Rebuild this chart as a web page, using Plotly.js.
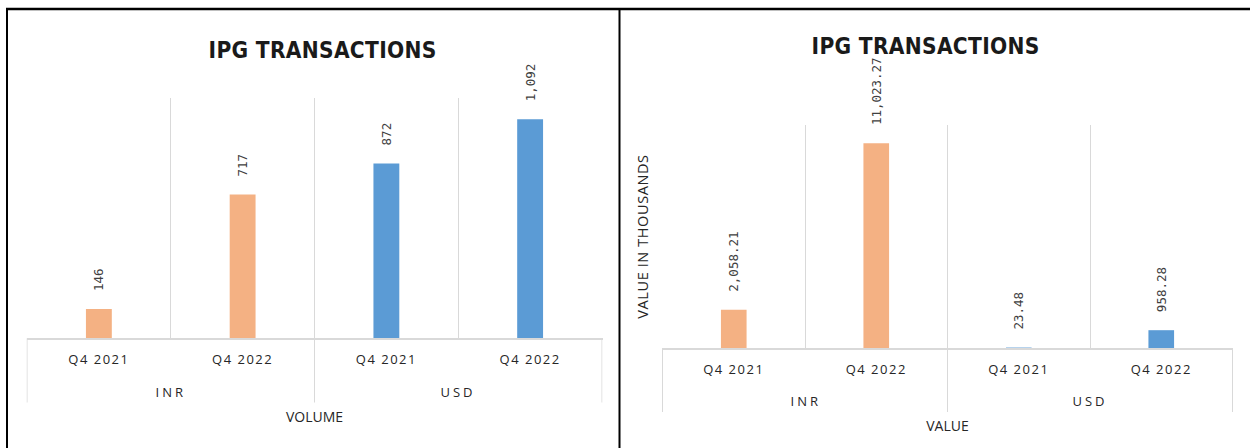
<!DOCTYPE html>
<html>
<head>
<meta charset="utf-8">
<script src="https://cdn.plot.ly/plotly-3.0.1.min.js"></script>
<style>
  html, body { margin: 0; padding: 0; background: #fff; }
  #chart { width: 1250px; height: 448px; }
  .xaxislayer-above text { letter-spacing: 1.5px; }
  .annotation[data-index="2"] text, .annotation[data-index="3"] text,
  .annotation[data-index="4"] text, .annotation[data-index="5"] text { letter-spacing: 3px; }
  .annotation[data-index="0"] text, .annotation[data-index="1"] text { letter-spacing: 0.3px; }
  .y2title { letter-spacing: 0.6px; }
</style>
</head>
<body>
<div id="chart"></div>
<script>
// ---- data ----
const currencies = ["INR", "INR", "USD", "USD"];
const quarters = ["Q4 2021", "Q4 2022", "Q4 2021", "Q4 2022"];
const volumeValues = [146, 717, 872, 1092];
const valueValues = [2058.21, 11023.27, 23.48, 958.28];
const chartTitle = "IPG TRANSACTIONS";
const volumeAxisTitle = "VOLUME";
const valueAxisTitle = "VALUE";
const valueYAxisTitle = "VALUE IN THOUSANDS";

// ---- styles ----
const currencyColor = { INR: "#F4B183", USD: "#5B9BD5" };
const W = 1250, H = 448;
const px = v => v / W;
const py = v => 1 - v / H;
const labelFont = { family: "DejaVu Sans Mono", size: 12.5, color: "#404040" };
const tickFont = { family: "Open Sans", size: 13, color: "#262626" };
const axisTitleFont = { family: "Open Sans", size: 14, color: "#262626" };
const titleFont = { family: "DejaVu Sans Condensed, sans-serif", size: 22.5, weight: 700, color: "#1a1a1a" };
const gridCol = "#d9d9d9";

// unique category keys (currency + quarter), displayed as quarter
const keys = currencies.map((c, i) => c + "|" + quarters[i]);
const groups = [...new Set(currencies)];
const groupCenter = g => {
  const idx = currencies.map((c, i) => c === g ? i : null).filter(v => v !== null);
  return idx.reduce((a, b) => a + b, 0) / idx.length;
};
const boundaries = [-0.5];
currencies.forEach((c, i) => { if (i > 0 && c !== currencies[i - 1]) boundaries.push(i - 0.5); });
boundaries.push(currencies.length - 0.5);

function barTrace(vals, fmt, xa, ya) {
  return {
    type: "bar",
    x: keys,
    y: vals,
    xaxis: xa, yaxis: ya,
    marker: { color: currencies.map(c => currencyColor[c]) },
    texttemplate: "\u00a0\u00a0%{y:" + fmt + "}",
    textposition: "outside",
    textangle: -90,
    constraintext: "none",
    textfont: labelFont,
    cliponaxis: false,
    hoverinfo: "none",
    showlegend: false
  };
}

const traces = [
  barTrace(volumeValues, ",.0f", "x", "y"),
  barTrace(valueValues, ",.2f", "x2", "y2")
];

function xAxis(domain, title, anchor) {
  return {
    domain: domain,
    anchor: anchor,
    type: "category",
    categoryorder: "array",
    categoryarray: keys,
    tickmode: "array",
    tickvals: keys,
    ticktext: quarters,
    tickson: "boundaries",
    ticks: "",
    ticklabelstandoff: 8,
    showgrid: true,
    gridcolor: gridCol,
    gridwidth: 1,
    showline: true,
    linecolor: gridCol,
    linewidth: 2,
    tickfont: tickFont,
    fixedrange: true,
    title: { text: title, font: axisTitleFont, standoff: 45 }
  };
}
function yAxis(domain, range, anchor, title) {
  const a = {
    domain: domain,
    anchor: anchor,
    range: range,
    showgrid: false,
    zeroline: false,
    showline: false,
    showticklabels: false,
    ticks: "",
    fixedrange: true
  };
  if (title) a.title = { text: title, font: { family: "Open Sans", size: 14.5, color: "#262626" }, standoff: 8 };
  return a;
}

const yDom1 = [py(338.3), py(97.7)];
const yDom2 = [py(348), py(125)];

const annotations = [
  { xref: "paper", yref: "paper", x: px(322), y: py(50), text: chartTitle, showarrow: false,
    xanchor: "center", yanchor: "middle", font: titleFont },
  { xref: "paper", yref: "paper", x: px(925), y: py(46), text: chartTitle, showarrow: false,
    xanchor: "center", yanchor: "middle", font: titleFont }
];
groups.forEach(g => annotations.push({ xref: "x", yref: "paper", x: groupCenter(g), y: py(392), text: g,
  showarrow: false, xanchor: "center", yanchor: "middle", font: tickFont }));
groups.forEach(g => annotations.push({ xref: "x2", yref: "paper", x: groupCenter(g), y: py(401), text: g,
  showarrow: false, xanchor: "center", yanchor: "middle", font: tickFont }));

const shapes = [
  { type: "line", xref: "paper", yref: "paper", x0: px(6), x1: 1, y0: py(9), y1: py(9), line: { color: "#000", width: 2.5 } },
  { type: "line", xref: "paper", yref: "paper", x0: px(7), x1: px(7), y0: py(9), y1: 0, line: { color: "#000", width: 2 } },
  { type: "line", xref: "paper", yref: "paper", x0: px(619.5), x1: px(619.5), y0: py(9), y1: 0, line: { color: "#000", width: 2 } }
];
boundaries.forEach(b => {
  shapes.push({ type: "line", xref: "x", yref: "paper", x0: b, x1: b, y0: yDom1[0], y1: py(402.5), line: { color: gridCol, width: 1 } });
  shapes.push({ type: "line", xref: "x2", yref: "paper", x0: b, x1: b, y0: yDom2[0], y1: py(412), line: { color: gridCol, width: 1 } });
});

const layout = {
  width: W, height: H,
  margin: { l: 0, r: 0, t: 0, b: 0, pad: 0 },
  paper_bgcolor: "#fff",
  plot_bgcolor: "rgba(0,0,0,0)",
  bargap: 0.82,
  xaxis: xAxis([px(26.5), px(602.5)], volumeAxisTitle, "y"),
  yaxis: yAxis(yDom1, [0, 1200], "x"),
  xaxis2: xAxis([px(662), px(1233)], valueAxisTitle, "y2"),
  yaxis2: yAxis(yDom2, [0, 12000], "x2", valueYAxisTitle),
  annotations: annotations,
  shapes: shapes
};

Plotly.newPlot("chart", traces, layout, { staticPlot: true, displayModeBar: false });
</script>
</body>
</html>
